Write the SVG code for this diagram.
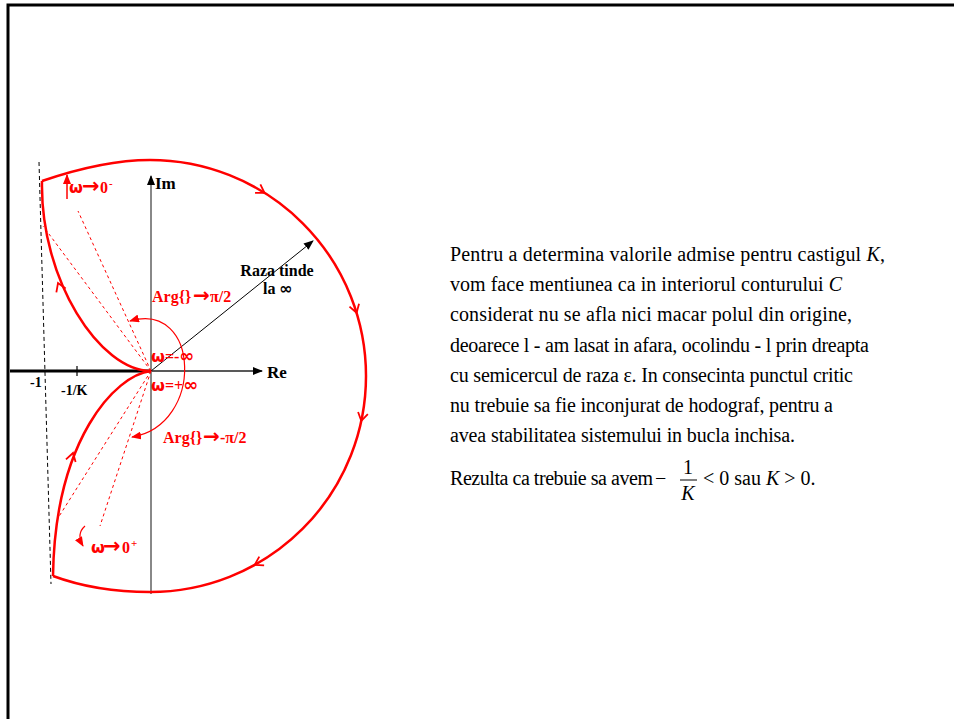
<svg xmlns="http://www.w3.org/2000/svg" width="954" height="719" viewBox="0 0 954 719">
<style>
.lbl{font-family:"Liberation Serif","Times New Roman",serif;font-weight:bold}
.sym{font-family:"DejaVu Sans",sans-serif;font-weight:bold}
.red{fill:#ff0000}
.blk{fill:#000}
.txt{font-family:"Liberation Serif","Times New Roman",serif;font-size:20px;fill:#000}
.it{font-style:italic}
.contour{fill:none;stroke:#ff0000;stroke-width:2.5}
.rdash{fill:none;stroke:#ff0000;stroke-width:1;stroke-dasharray:3 3}
.chev{fill:none;stroke:#ff0000;stroke-width:1.8}
</style>
<defs>
<marker id="ahb" markerWidth="10" markerHeight="8" refX="9" refY="4" orient="auto" markerUnits="userSpaceOnUse">
<path d="M0,0 L10,4 L0,8 Z" fill="#000"/>
</marker>
<marker id="ahr" markerWidth="10" markerHeight="8" refX="9" refY="4" orient="auto-start-reverse" markerUnits="userSpaceOnUse">
<path d="M0,0 L10,4 L0,8 Z" fill="#ff0000"/>
</marker>
</defs>
<rect width="954" height="719" fill="#fff"/>
<path d="M8,719 V5 H954" fill="none" stroke="#000" stroke-width="3"/>

<g id="axes">
<line x1="10" y1="371" x2="151" y2="371" stroke="#000" stroke-width="3"/>
<line x1="151" y1="371" x2="262" y2="371" stroke="#222" stroke-width="1.3" marker-end="url(#ahb)"/>
<line x1="151" y1="594" x2="151" y2="176" stroke="#888" stroke-width="2" marker-end="url(#ahb)"/>
<line x1="77" y1="366" x2="77" y2="376" stroke="#000" stroke-width="1.2"/>
<line x1="39" y1="162" x2="51" y2="584" stroke="#000" stroke-width="1" stroke-dasharray="4 3"/>
<line x1="151" y1="371" x2="313" y2="241" stroke="#000" stroke-width="1" marker-end="url(#ahb)"/>
<text class="lbl blk" x="155" y="189" font-size="17">Im</text>
<text class="lbl blk" x="267" y="378" font-size="17">Re</text>
<text class="lbl blk" x="30" y="387" font-size="14">-1</text>
<text class="lbl blk" x="61" y="395" font-size="14">-1/K</text>
<text class="lbl blk" x="277" y="276" font-size="16" text-anchor="middle">Raza tinde</text>
<text class="lbl blk" x="263" y="294" font-size="16">la<tspan class="sym" x="279" font-size="16">∞</tspan></text>
</g>

<g id="connectors">
<path class="contour" d="M42,181 C80,168 115,160 150,160 A216,216 0 0,1 150,592 C115,592 80,586 53,576"/>
<path class="contour" d="M151,371 C100,371 40,280 42,181"/>
<path class="contour" d="M151,371 C115,375 55,440 53,576"/>
<path class="chev" d="M-8,-5 L0,0 L-8,5" transform="translate(264.5,192.8) rotate(32)"/>
<path class="chev" d="M-8,-5 L0,0 L-8,5" transform="translate(356.6,312.8) rotate(73)"/>
<path class="chev" d="M-8,-5 L0,0 L-8,5" transform="translate(361.3,420.9) rotate(102)"/>
<path class="chev" d="M-8,-5 L0,0 L-8,5" transform="translate(254.7,564.9) rotate(151)"/>
<path class="chev" d="M-8,-5 L0,0 L-8,5" transform="translate(58,283) rotate(-112)"/>
<path class="chev" d="M-8,-5 L0,0 L-8,5" transform="translate(73,453) rotate(-74)"/>
<line class="rdash" x1="151" y1="371" x2="43" y2="226"/>
<line class="rdash" x1="151" y1="371" x2="78" y2="211"/>
<line class="rdash" x1="151" y1="371" x2="58" y2="518"/>
<line class="rdash" x1="151" y1="371" x2="100" y2="526"/>
<path d="M130,321 C200,300 205,425 132,437" fill="none" stroke="#ff0000" stroke-width="1.2" marker-start="url(#ahr)" marker-end="url(#ahr)"/>
<line x1="67" y1="199" x2="67" y2="175" stroke="#ff0000" stroke-width="1.5" marker-end="url(#ahr)"/>
<path d="M85,526 Q76,534 83,546" fill="none" stroke="#ff0000" stroke-width="1.2" marker-end="url(#ahr)"/>
</g>

<g id="labels-red">
<text class="lbl red" y="193" font-size="16"><tspan class="sym" x="69">ω</tspan><tspan class="sym" x="82" font-size="21">→</tspan><tspan x="100">0</tspan><tspan x="109" font-size="11" dy="-6">-</tspan></text>
<text class="lbl red" y="553" font-size="16"><tspan class="sym" x="91">ω</tspan><tspan class="sym" x="103" font-size="21">→</tspan><tspan x="122">0</tspan><tspan x="131" font-size="11" dy="-6">+</tspan></text>
<text class="lbl red" y="302" font-size="16"><tspan x="152">Arg{}</tspan><tspan class="sym" x="193" font-size="20">→</tspan><tspan x="210">π/2</tspan></text>
<text class="lbl red" y="443" font-size="16"><tspan x="163">Arg{}</tspan><tspan class="sym" x="203" font-size="20">→</tspan><tspan x="220">-π/2</tspan></text>
<text class="lbl red" x="151" y="362" font-size="16"><tspan class="sym">ω</tspan>=-<tspan class="sym" font-size="18">∞</tspan></text>
<text class="lbl red" x="151" y="391" font-size="16"><tspan class="sym">ω</tspan>=+<tspan class="sym" font-size="18">∞</tspan></text>
</g>

<g id="explanation">
<text class="txt" x="450" y="261" textLength="435" lengthAdjust="spacing">Pentru a determina valorile admise pentru castigul <tspan class="it">K</tspan>,</text>
<text class="txt" x="450" y="291" textLength="392" lengthAdjust="spacing">vom face mentiunea ca in interiorul conturului <tspan class="it">C</tspan></text>
<text class="txt" x="450" y="321" textLength="402" lengthAdjust="spacing">considerat nu se afla nici macar polul din origine,</text>
<text class="txt" x="450" y="352" textLength="419" lengthAdjust="spacing">deoarece l - am lasat in afara, ocolindu - l prin dreapta</text>
<text class="txt" x="450" y="382" textLength="403" lengthAdjust="spacing">cu semicercul de raza ε. In consecinta punctul critic</text>
<text class="txt" x="450" y="412" textLength="383" lengthAdjust="spacing">nu trebuie sa fie inconjurat de hodograf, pentru a</text>
<text class="txt" x="450" y="442" textLength="345" lengthAdjust="spacing">avea stabilitatea sistemului in bucla inchisa.</text>
<text class="txt" x="450" y="485" textLength="203" lengthAdjust="spacing">Rezulta ca trebuie sa avem</text>
<text class="txt" x="655" y="485">−</text>
<text class="txt" x="688" y="474" text-anchor="middle">1</text>
<line x1="680" y1="480" x2="697" y2="480" stroke="#000" stroke-width="1"/>
<text class="txt it" x="688" y="500" text-anchor="middle">K</text>
<text class="txt" x="703" y="485">&lt; 0 sau <tspan class="it">K</tspan> &gt; 0.</text>
</g>
</svg>
